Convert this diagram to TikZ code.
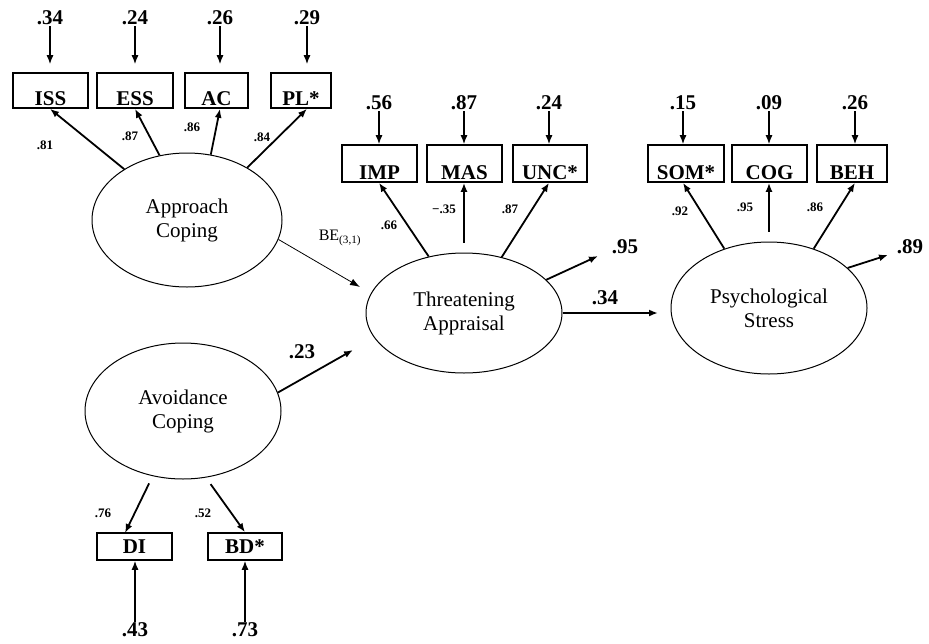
\documentclass[tikz,border=0pt]{standalone}
\usepackage{fontspec}
\setmainfont{Liberation Serif}
\usetikzlibrary{shapes.geometric,arrows.meta}
\begin{document}
\begin{tikzpicture}[x=1pt,y=-1pt,
 lat/.style={draw,ellipse,line width=1pt,inner sep=0pt,align=center,font=\fontsize{21}{24}\selectfont},
 obsbase/.style={draw,rectangle,line width=1.6pt,inner sep=0pt,font=\bfseries\fontsize{21}{21}\selectfont},
 obsA/.style={obsbase,minimum height=35pt,text height=32pt,text depth=3pt},
 obsB/.style={obsbase,minimum height=37pt,text height=34pt,text depth=3pt},
 obsC/.style={obsbase,minimum height=27pt,text height=20pt,text depth=7pt},
 errn/.style={font=\bfseries\fontsize{21}{21}\selectfont,inner sep=1pt},
 lod/.style={font=\bfseries\fontsize{13}{13}\selectfont,inner sep=1pt},
 arr/.style={-{Latex[length=9pt,width=7pt]},line width=1.8pt},
 earr/.style={-{Latex[length=9pt,width=7pt]},line width=1.4pt},
 tarr/.style={-{Latex[length=10pt,width=7pt]},line width=0.8pt},
]
\useasboundingbox (0,0) rectangle (929,643);

% latent variables
\node[lat,minimum width=190pt,minimum height=134pt] (ac) at (187,220) {Approach\\Coping};
\node[lat,minimum width=196pt,minimum height=120pt] (ta) at (464,313) {Threatening\\Appraisal};
\node[lat,minimum width=196pt,minimum height=132pt] (ps) at (769,308) {Psychological\\Stress};
\node[lat,minimum width=196pt,minimum height=136pt] (av) at (183,411) {Avoidance\\Coping};

% top-left indicators
\node[obsA,minimum width=75pt] (iss) at (50.5,90.5) {ISS};
\node[obsA,minimum width=76pt] (ess) at (135,90.5) {ESS};
\node[obsA,minimum width=63pt] (acb) at (216.5,90.5) {AC};
\node[obsA,minimum width=60pt] (pl) at (301,90.5) {PL*};
\node[errn] (e1) at (50,18) {.34};
\node[errn] (e2) at (135,18) {.24};
\node[errn] (e3) at (220,18) {.26};
\node[errn] (e4) at (307,18) {.29};
\foreach \e/\b in {e1/iss,e2/ess,e3/acb,e4/pl}
  \draw[earr,shorten >=8pt] (\e) -- (\b.north -| \e);
\draw[arr] (ac.141) -- (iss.south -| e1);
\draw[arr] (ac.113) -- (ess.south -| e2);
\draw[arr] (ac.70) -- (acb.south -| e3);
\draw[arr] (ac.41) -- (pl.south -| e4);
\node[lod] at (45,145) {.81};
\node[lod] at (130,136) {.87};
\node[lod] at (192,127) {.86};
\node[lod] at (262,137) {.84};

% middle indicators
\node[obsB,minimum width=75pt] (imp) at (379.5,163.5) {IMP};
\node[obsB,minimum width=75pt] (mas) at (464.5,163.5) {MAS};
\node[obsB,minimum width=74pt] (unc) at (550,163.5) {UNC*};
\node[errn] (e5) at (379,103) {.56};
\node[errn] (e6) at (464,103) {.87};
\node[errn] (e7) at (549,103) {.24};
\foreach \e/\b in {e5/imp,e6/mas,e7/unc}
  \draw[earr] (\e) -- (\b.north -| \e);
\draw[arr] (ta.122) -- (imp.south -| e5);
\draw[arr,shorten <=10pt] (ta.north -| e6) -- (mas.south -| e6);
\draw[arr] (ta.56) -- (unc.south -| e7);
\node[lod] at (389,225) {.66};
\node[lod] at (444,209) {−.35};
\node[lod] at (510,209) {.87};

% right indicators
\node[obsB,minimum width=76pt] (som) at (686,163.5) {SOM*};
\node[obsB,minimum width=75pt] (cog) at (769.5,163.5) {COG};
\node[obsB,minimum width=70pt] (beh) at (852,163.5) {BEH};
\node[errn] (e8) at (683,103) {.15};
\node[errn] (e9) at (769,103) {.09};
\node[errn] (e10) at (855,103) {.26};
\foreach \e/\b in {e8/som,e9/cog,e10/beh}
  \draw[earr] (\e) -- (\b.north -| \e);
\draw[arr] (ps.127) -- (som.south -| e8);
\draw[arr,shorten <=10pt] (ps.north -| e9) -- (cog.south -| e9);
\draw[arr] (ps.53) -- (beh.south -| e10);
\node[lod] at (680,211) {.92};
\node[lod] at (745,207) {.95};
\node[lod] at (815,207) {.86};

% bottom indicators
\node[obsC,minimum width=75pt] (di) at (134.5,546.5) {DI};
\node[obsC,minimum width=74pt] (bd) at (245,546.5) {BD*};
\node[errn] (e11) at (135,630) {.43};
\node[errn] (e12) at (245,630) {.73};
\draw[earr] (e11) -- (di.south -| e11);
\draw[earr] (e12) -- (bd.south -| e12);
\coordinate (dit) at (125,533);
\draw[arr,shorten <=8pt] (av.245) -- (dit);
\draw[arr,shorten <=8pt] (av.289) -- (bd.north);
\node[lod] at (103,513) {.76};
\node[lod] at (203,513) {.52};

% structural paths
\coordinate (beend) at (360,287);
\draw[tarr] (ac.-12) -- (beend);
\node[font=\fontsize{16}{16}\selectfont,inner sep=1pt] at (340,238) {BE\textsubscript{(3,1)}};
\coordinate (end23) at (353,350);
\draw[arr] (av.11) -- (end23);
\node[errn] at (302,352) {.23};
\coordinate (end95) at (598,256);
\draw[arr] (ta.22) -- (end95);
\node[errn] at (625,247) {.95};
\coordinate (end34) at (658,313);
\draw[arr] (ta.east) -- (end34);
\node[errn] at (605,298) {.34};
\coordinate (end89) at (888,255);
\draw[arr] (ps.27) -- (end89);
\node[errn] at (910,247) {.89};
\end{tikzpicture}
\end{document}
